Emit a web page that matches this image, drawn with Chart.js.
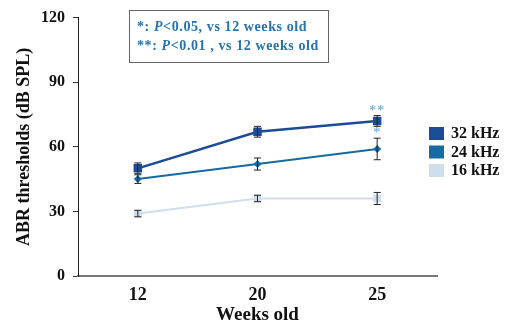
<!DOCTYPE html>
<html>
<head>
<meta charset="utf-8">
<script src="https://cdn.jsdelivr.net/npm/chart.js@4/dist/chart.umd.min.js"></script>
<style>
  html, body { margin: 0; padding: 0; background: #fff; }
  #wrap { width: 509px; height: 326px; position: relative; }
</style>
</head>
<body>
<div id="wrap"><canvas id="c" width="509" height="326"></canvas></div>
<script>
// Age groups (weeks old)
const weeks = ['12', '20', '25'];

// Mean ABR thresholds (dB SPL) per frequency
const khz32 = [50, 67, 72];
const khz24 = [45, 52, 59];
const khz16 = [29, 36, 36];

// Error bar half-widths (dB)
const err32 = [2.5, 2.5, 2.5];
const err24 = [2, 2.8, 5];
const err16 = [1.5, 1.5, 2.8];

// Significance marks above the 25-week points
const sig32 = ['', '', '**'];
const sig24 = ['', '', '*'];

const yTicks = [0, 30, 60, 90, 120];

const serif = '"Liberation Serif", "Times New Roman", serif';
const C32 = '#1c4b97', C24 = '#176aa2', C16 = '#cfdeec';

// Draws error bars, significance stars, the note box and the legend
const extras = {
  id: 'extras',
  afterDatasetsDraw(chart) {
    const ctx = chart.ctx;
    const y = chart.scales.y;
    const errs = [err32, err24, err16];
    const sigs = [sig32, sig24, null];
    ctx.save();
    chart.data.datasets.forEach((ds, i) => {
      const meta = chart.getDatasetMeta(i);
      meta.data.forEach((pt, j) => {
        const v = ds.data[j], e = errs[i][j];
        const top = y.getPixelForValue(v + e), bot = y.getPixelForValue(v - e);
        ctx.strokeStyle = '#222';
        ctx.lineWidth = 1;
        ctx.beginPath();
        ctx.moveTo(pt.x, top); ctx.lineTo(pt.x, bot);
        ctx.moveTo(pt.x - 3.5, top); ctx.lineTo(pt.x + 3.5, top);
        ctx.moveTo(pt.x - 3.5, bot); ctx.lineTo(pt.x + 3.5, bot);
        ctx.stroke();
        const s = sigs[i] && sigs[i][j];
        if (s) {
          ctx.fillStyle = '#5b9bd0';
          ctx.font = '14px ' + serif;
          ctx.textAlign = 'center';
          ctx.textBaseline = 'alphabetic';
          ctx.letterSpacing = '1px';
          ctx.fillText(s, pt.x, top - 1);
          ctx.letterSpacing = '0px';
        }
      });
    });

    // Note box
    ctx.strokeStyle = '#666';
    ctx.lineWidth = 1;
    ctx.strokeRect(129.5, 10.5, 199, 52);
    const lines = [
      ['*: ', 'P', '<0.05, vs 12 weeks old'],
      ['**: ', 'P', '<0.01 , vs 12 weeks old']
    ];
    ctx.fillStyle = '#2673ae';
    ctx.textAlign = 'left';
    ctx.textBaseline = 'middle';
    ctx.letterSpacing = '0.6px';
    lines.forEach((parts, k) => {
      let x = 137;
      const yy = 27 + k * 19;
      parts.forEach((t, m) => {
        ctx.font = (m === 1 ? 'italic bold ' : 'bold ') + '14px ' + serif;
        ctx.fillText(t, x, yy);
        x += ctx.measureText(t).width;
      });
    });
    ctx.letterSpacing = '0px';

    // Legend
    const items = [['32 kHz', C32], ['24 kHz', C24], ['16 kHz', C16]];
    items.forEach((it, k) => {
      const cy = 133 + k * 18.5;
      ctx.fillStyle = it[1];
      ctx.fillRect(429, cy - 6, 15, 13);
      ctx.fillStyle = '#111';
      ctx.font = 'bold 16px ' + serif;
      ctx.textBaseline = 'middle';
      ctx.fillText(it[0], 451, cy + 1);
    });
    ctx.restore();
  }
};

new Chart(document.getElementById('c'), {
  type: 'line',
  data: {
    labels: weeks,
    datasets: [
      { label: '32 kHz', data: khz32, borderColor: C32, backgroundColor: C32,
        borderWidth: 2.5, pointStyle: 'rect', pointRadius: 6, pointBorderWidth: 0 },
      { label: '24 kHz', data: khz24, borderColor: C24, backgroundColor: C24,
        borderWidth: 2, pointStyle: 'rectRot', pointRadius: 4, pointBorderWidth: 0 },
      { label: '16 kHz', data: khz16, borderColor: C16, backgroundColor: C16,
        borderWidth: 2, pointStyle: 'rect', pointRadius: 5.5, pointBorderWidth: 0 }
    ]
  },
  options: {
    responsive: false,
    animation: false,
    events: [],
    layout: { padding: { top: 7, right: 72, left: 0, bottom: 0 } },
    plugins: { legend: { display: false }, tooltip: { enabled: false } },
    scales: {
      x: {
        offset: true,
        grid: { display: false },
        border: { display: true, color: '#777', width: 2 },
        ticks: { color: '#111', font: { family: serif, size: 18, weight: 'bold' }, padding: 1 },
        title: { display: true, text: 'Weeks old', color: '#111',
                 font: { family: serif, size: 19, weight: 'bold' }, padding: { top: 0, bottom: 0 } },
        afterFit(s) { s.height = 50; }
      },
      y: {
        min: 0, max: 120,
        afterBuildTicks(s) { s.ticks = yTicks.map(v => ({ value: v })); },
        grid: { display: true, drawOnChartArea: false, drawTicks: true, tickLength: 5, color: '#333' },
        border: { display: true, color: '#222', width: 1 },
        ticks: { color: '#111', font: { family: serif, size: 16, weight: 'bold' }, padding: 8 },
        title: { display: true, text: 'ABR thresholds (dB SPL)', color: '#111',
                 font: { family: serif, size: 18, weight: 'bold' }, padding: { top: 14, bottom: 0 } },
        afterFit(s) { s.width = 78; }
      }
    }
  },
  plugins: [extras]
});
</script>
</body>
</html>
